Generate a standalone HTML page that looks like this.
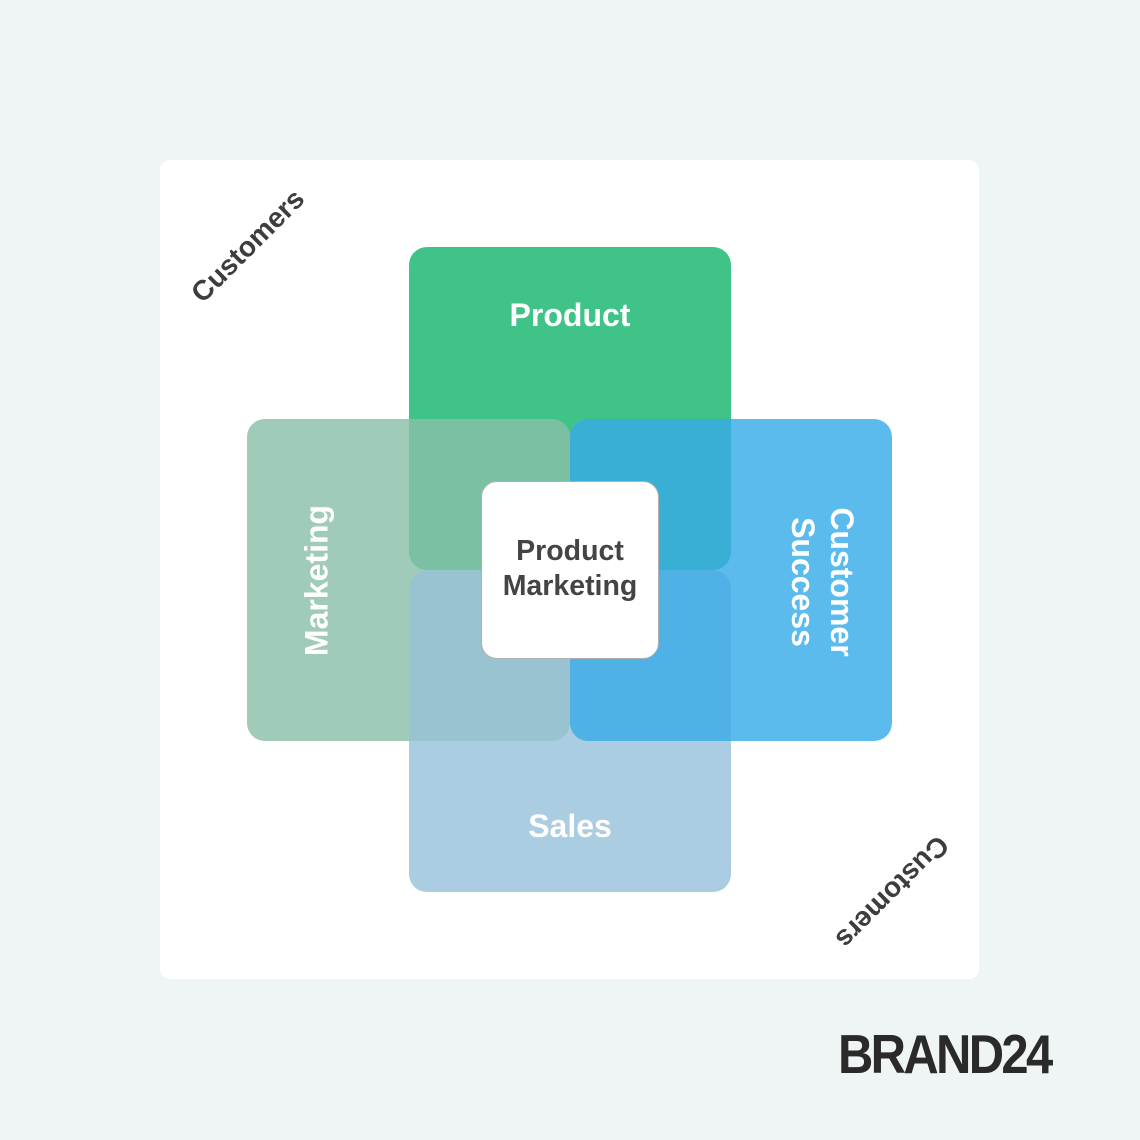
<!DOCTYPE html>
<html><head><meta charset="utf-8"><style>
body{margin:0;width:1140px;height:1140px;background:#eff5f5;position:relative;overflow:hidden;font-family:"Liberation Sans",sans-serif}
.a{position:absolute}
.card{left:160px;top:160px;width:819px;height:819px;background:#fff;border-radius:10px}
.t{position:absolute;color:#fff;font-weight:bold;font-size:32px;text-align:center;white-space:nowrap;line-height:37px}
.c{position:absolute;color:#3d3d3d;font-weight:bold;font-size:28px;white-space:nowrap;transform-origin:center center}
</style></head><body>
<div class="a card"></div>
<div class="a" style="left:409px;top:247px;width:322px;height:323px;background:#40c389;border-radius:18px"></div>
<div class="a" style="left:247px;top:419px;width:323px;height:322px;background:#a0cbb8;border-radius:18px"></div>
<div class="a" style="left:570px;top:419px;width:322px;height:322px;background:#5cbbed;border-radius:18px"></div>
<div class="a" style="left:409px;top:570px;width:322px;height:322px;background:#abcde1;border-radius:18px"></div>
<div class="a" style="left:409px;top:419px;width:161px;height:151px;background:#7bc0a2;border-radius:0 18px 0 18px"></div>
<div class="a" style="left:570px;top:419px;width:161px;height:151px;background:#39afd5;border-radius:18px 0 18px 0"></div>
<div class="a" style="left:409px;top:570px;width:161px;height:171px;background:#9ac3d2;border-radius:18px 0 18px 0"></div>
<div class="a" style="left:570px;top:570px;width:161px;height:171px;background:#4fb1e5;border-radius:0 18px 0 18px"></div>
<div class="a" style="left:481px;top:481px;width:176px;height:176px;background:#fff;border:1px solid #b0b0b0;border-radius:16px"></div>
<div class="a" style="left:481px;top:534px;width:178px;text-align:center;color:#444;font-weight:bold;font-size:28.5px;line-height:35px">Product<br>Marketing</div>
<div class="t" style="left:409px;top:297px;width:322px">Product</div>
<div class="t" style="left:409px;top:808px;width:322px">Sales</div>
<div class="t" style="left:217px;top:562px;width:200px;transform:rotate(-90deg)">Marketing</div>
<div class="t" style="left:722px;top:543px;width:200px;transform:rotate(90deg);line-height:39px">Customer<br>Success</div>
<div class="c" style="left:168px;top:230px;width:160px;text-align:center;transform:rotate(-45deg)">Customers</div>
<div class="c" style="left:812px;top:876px;width:160px;text-align:center;transform:rotate(135deg)">Customers</div>
<div class="a" style="left:838px;top:1024px;font-weight:bold;font-size:55px;color:#2a2a2a;letter-spacing:-3px;line-height:60px;transform:scaleX(0.89);transform-origin:left">BRAND24</div>
</body></html>
